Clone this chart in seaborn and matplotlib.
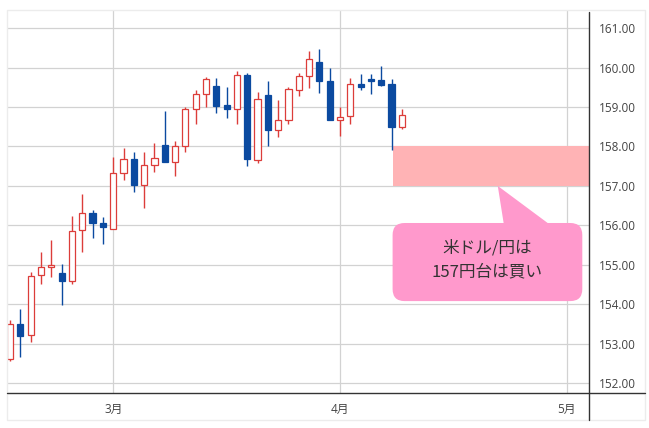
import numpy as np
import pandas as pd
import matplotlib.pyplot as plt
import matplotlib.patches as mpatches
from matplotlib.lines import Line2D
import seaborn as sns

sns.set_theme(style="white")
plt.rcParams["font.family"] = ["Open Sans", "Noto Sans CJK JP", "DejaVu Sans"]

# daily candles (USD/JPY)
OPENS = [152.62, 153.49, 153.21, 154.73, 154.94, 154.80, 154.59, 155.87, 156.32, 156.07,
         155.92, 157.34, 157.68, 157.03, 157.52, 158.03, 157.61, 158.01, 158.94, 159.32,
         159.54, 159.06, 158.96, 159.82, 157.65, 159.30, 158.41, 158.66, 159.44, 159.78,
         160.13, 159.65, 158.68, 158.77, 159.58, 159.68, 159.68, 159.58, 158.50]
HIGHS = [153.60, 153.89, 154.83, 155.32, 155.62, 155.01, 156.25, 156.80, 156.40, 156.21,
         157.73, 157.96, 157.85, 157.85, 158.09, 158.89, 158.14, 159.00, 159.43, 159.75,
         159.74, 159.51, 159.91, 159.87, 159.38, 159.66, 159.17, 159.51, 159.87, 160.42,
         160.47, 159.98, 158.99, 159.74, 159.83, 159.85, 160.04, 159.72, 158.94]
LOWS = [152.55, 152.66, 153.04, 154.52, 154.69, 153.99, 154.52, 155.32, 155.69, 155.54,
        155.90, 157.15, 156.85, 156.44, 157.35, 157.60, 157.24, 157.86, 158.58, 159.00,
        158.86, 158.72, 158.58, 157.51, 157.59, 158.01, 158.24, 158.58, 159.28, 159.47,
        159.36, 158.67, 158.27, 158.56, 159.44, 159.32, 159.54, 157.92, 158.44]
CLOSES = [153.49, 153.19, 154.71, 154.94, 155.00, 154.59, 155.86, 156.32, 156.07, 155.96,
          157.34, 157.67, 157.03, 157.52, 157.72, 157.61, 158.01, 158.94, 159.32, 159.70,
          159.03, 158.94, 159.82, 157.67, 159.20, 158.41, 158.66, 159.45, 159.78, 160.23,
          159.65, 158.68, 158.75, 159.58, 159.50, 159.67, 159.57, 158.49, 158.81]

MONTH_POS = [10, 32, 54]
MONTH_LABELS = ["3月", "4月", "5月"]
Y_TICKS = [152, 153, 154, 155, 156, 157, 158, 159, 160, 161]

ZONE_LOW, ZONE_HIGH = 157.0, 158.0
ZONE_START = 37.15
NOTE_TEXT = "米ドル/円は\n157円台は買い"

RED = "#dc3d3a"
BLUE = "#0b4aa0"
ZONE_COLOR = "#ffb3b5"
NOTE_COLOR = "#ff99cc"

W, H = 649, 428
X_MIN, X_MAX = -0.3, 56.15
Y_MIN, Y_MAX = 151.75, 161.46

df = pd.DataFrame({"open": OPENS, "high": HIGHS, "low": LOWS, "close": CLOSES})
df["x"] = np.arange(len(df))
up = (df["close"] >= df["open"]).to_numpy()

fig = plt.figure(figsize=(W / 100, H / 100), dpi=100)
ax = fig.add_axes([7 / W, 1 - 393 / H, (589 - 7) / W, (393 - 10) / H])

# wicks then bodies (hollow red = up, filled blue = down)
ax.vlines(df["x"], df["low"], df["high"], colors=np.where(up, RED, BLUE), linewidth=1, zorder=3)
ax.bar(df["x"], (df["close"] - df["open"]).abs().clip(lower=0.03),
       bottom=df[["open", "close"]].min(axis=1), width=0.6,
       color=np.where(up, "white", BLUE), edgecolor=np.where(up, RED, BLUE),
       linewidth=0.9, zorder=4)

# buy zone
ax.add_patch(mpatches.Rectangle((ZONE_START, ZONE_LOW), X_MAX - ZONE_START, ZONE_HIGH - ZONE_LOW,
                                facecolor=ZONE_COLOR, edgecolor="none", zorder=2))

# callout
x_per_px = (X_MAX - X_MIN) / 582
y_per_px = (Y_MAX - Y_MIN) / 383
box_x0, box_x1 = 37.1, 55.5
box_y0, box_y1 = 154.08, 156.06
ax.add_patch(mpatches.FancyBboxPatch(
    (box_x0, box_y0), box_x1 - box_x0, box_y1 - box_y0,
    boxstyle=f"round,pad=0,rounding_size={12 * x_per_px:.3f}",
    mutation_aspect=y_per_px / x_per_px,
    facecolor=NOTE_COLOR, edgecolor="none", zorder=5))
ax.add_patch(mpatches.Polygon([(47.3, ZONE_LOW), (47.9, box_y1 - 0.05), (52.4, box_y1 - 0.05)],
                              closed=True, facecolor=NOTE_COLOR, edgecolor="none", zorder=5))
ax.text((box_x0 + box_x1) / 2, 155.13, NOTE_TEXT, ha="center", va="center", fontsize=12,
        linespacing=1.5, color="#333333", family=["Noto Sans CJK JP", "DejaVu Sans"], zorder=6)

ax.set_xlim(X_MIN, X_MAX)
ax.set_ylim(Y_MIN, Y_MAX)
ax.set_xticks(MONTH_POS)
ax.set_xticklabels(MONTH_LABELS)
ax.set_yticks(Y_TICKS)
ax.set_yticklabels([f"{v:.2f}" for v in Y_TICKS])
ax.yaxis.tick_right()
ax.tick_params(axis="both", length=0, labelsize=8.5, labelcolor="#444444")
ax.tick_params(axis="y", pad=7)
ax.tick_params(axis="x", pad=7)
ax.grid(True, color="#d2d2d2", linewidth=0.9)
ax.set_axisbelow(True)
for s in ax.spines.values():
    s.set_visible(False)

# outer frame and axis lines spanning the label areas
fig.add_artist(mpatches.Rectangle((7 / W, 1 - 420 / H), (645 - 7) / W, (420 - 10) / H,
                                  transform=fig.transFigure, fill=False,
                                  edgecolor="#ececec", linewidth=1))
fig.add_artist(Line2D([7 / W, 645 / W], [1 - 393 / H] * 2, transform=fig.transFigure,
                      color="#333333", linewidth=1))
fig.add_artist(Line2D([589 / W] * 2, [1 - 12 / H, 1 - 420 / H], transform=fig.transFigure,
                      color="#333333", linewidth=1))

fig.savefig("out.png", dpi=100)
